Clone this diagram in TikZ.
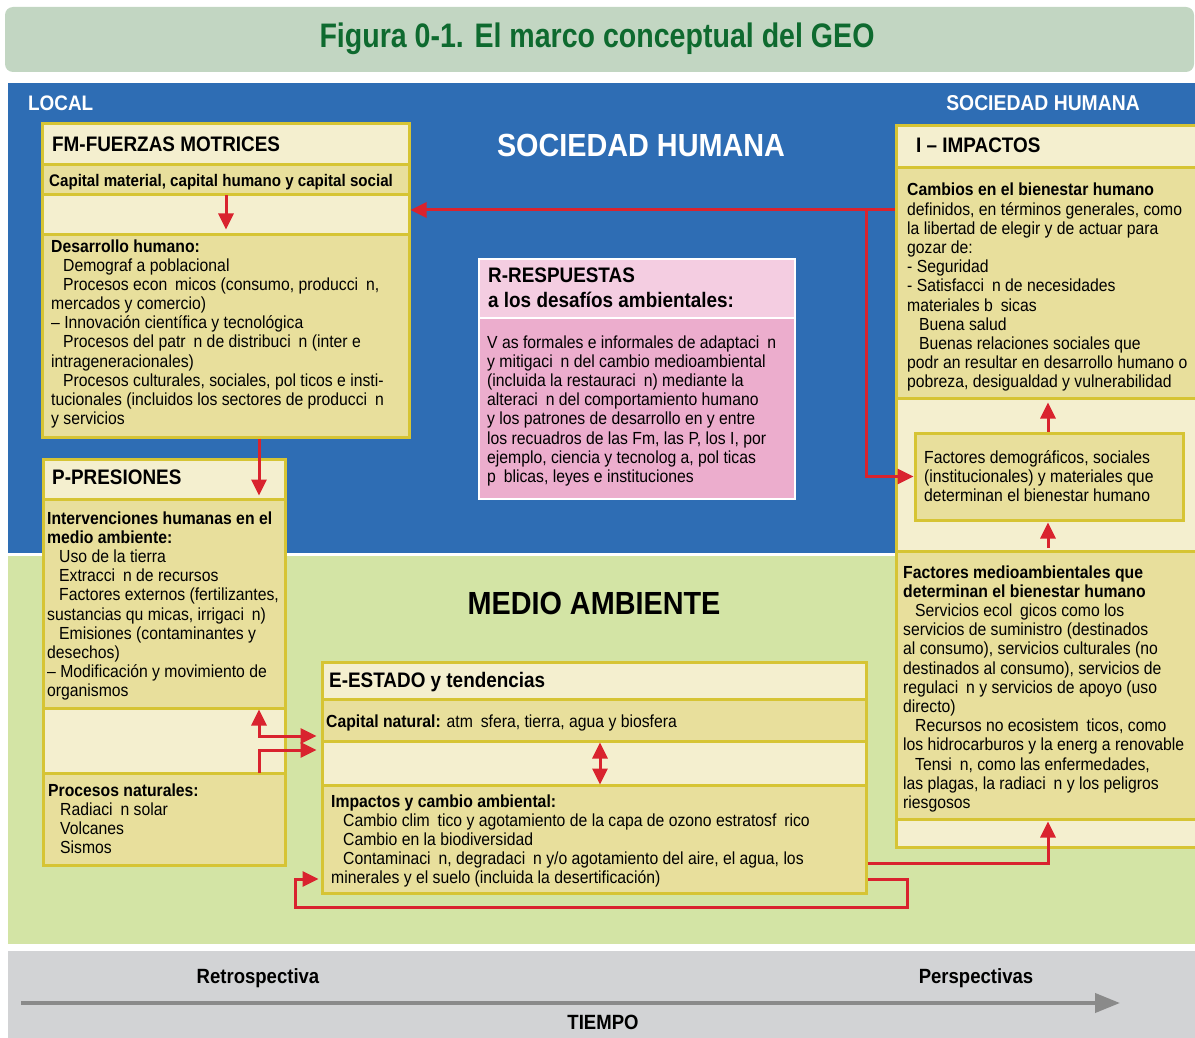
\documentclass[tikz,border=0pt]{standalone}
\usepackage{fontspec}
\setmainfont{Liberation Sans}[FakeStretch=0.9]
\newfontfamily\titlefont{Liberation Sans}[FakeStretch=0.84]
\usepackage{tikz}
\usetikzlibrary{%
	calc,%
	fit,%
	arrows.meta,%
	positioning%
}

\definecolor{bandblue}{HTML}{2E6DB4}
\definecolor{bandgreen}{HTML}{D3E4A5}
\definecolor{bandgray}{HTML}{D2D3D5}
\definecolor{bannerbg}{HTML}{C2D6C2}
\definecolor{titlegreen}{HTML}{0E6A2F}
\definecolor{seclight}{HTML}{F4EFCF}
\definecolor{secdark}{HTML}{E8DF9C}
\definecolor{secline}{HTML}{D6C434}
\definecolor{pinklight}{HTML}{F4CDE1}
\definecolor{pinkdark}{HTML}{ECADCD}
\definecolor{arrred}{HTML}{D9232E}
\definecolor{arrgray}{HTML}{8A8A8A}

\newcommand{\bodyfont}{\fontsize{17.5}{19.2}\selectfont}
\newcommand{\gap}{\hspace{0.45em}}
\newcommand{\ind}{\hspace*{12pt}}
\newcommand{\lines}[1]{\begin{tabular}[t]{@{}l@{}}#1\end{tabular}}

\tikzset{
	sect/.style={draw=secline, line width=3pt, inner sep=0pt},
	txt/.style={inner sep=0pt, anchor=base west, font=\bodyfont},
	headtxt/.style={inner sep=0pt, anchor=base west, font=\fontsize{21}{24}\selectfont\bfseries},
	label/.style={inner sep=0pt, anchor=base, font=\fontsize{20.6}{24}\selectfont\bfseries},
	rarr/.style={draw=arrred, line width=3pt, -{Triangle[length=16pt,width=15pt]}},
	rboth/.style={draw=arrred, line width=3pt, {Triangle[length=16pt,width=15pt]}-{Triangle[length=16pt,width=15pt]}}
}

\begin{document}
\begin{tikzpicture}[x=1pt, y=-1pt]
	\useasboundingbox (0,0) rectangle (1195,1038);

	% bands
	\fill[bannerbg, rounded corners=8pt] (5,7) rectangle (1194,72);
	\node[inner sep=0pt, anchor=base, font=\titlefont\fontsize{34}{38}\selectfont\bfseries, text=titlegreen] (title) at (597,48) {Figura 0-1. El marco conceptual del GEO};
	\fill[bandblue] (8,83) rectangle (1200,553);
	\fill[bandgreen] (8,556) rectangle (1200,944);
	\fill[bandgray] (8,951) rectangle (1200,1040);

	\node[inner sep=0pt, text=white, font=\fontsize{21}{24}\selectfont\bfseries, anchor=base west] (local) at (28,111) {LOCAL};
	\node[inner sep=0pt, text=white, font=\fontsize{21.5}{24}\selectfont\bfseries, anchor=base east] (sochead) at (1140,111) {SOCIEDAD HUMANA};
	\node[inner sep=0pt, text=white, font=\fontsize{32}{38}\selectfont\bfseries, anchor=base] (soc) at (641,157) {SOCIEDAD HUMANA};
	\node[inner sep=0pt, font=\fontsize{32}{38}\selectfont\bfseries, anchor=base] (medio) at (594,614) {MEDIO AMBIENTE};

	% FM
	\node[sect, fill=seclight, fit={(42,124) (409,165)}] (fmhead) {};
	\node[sect, fill=secdark, fit={(42,165) (409,195)}] (fmcap) {};
	\node[sect, fill=seclight, fit={(42,195) (409,234)}] (fmgap) {};
	\node[sect, fill=secdark, fit={(42,234) (409,437)}] (fmbody) {};
	\node[headtxt] (fmtitle) at (52,152) {FM-FUERZAS MOTRICES};
	\node[txt, font=\fontsize{16.8}{19.2}\selectfont\bfseries] (fmcaptxt) at (49,187) {Capital material, capital humano y capital social};
	\node[txt] (fmtxt) at (51,252) {\lines{\textbf{Desarrollo humano:}\\
		\ind Demograf a poblacional\\
		\ind Procesos econ\gap micos (consumo, producci\gap n,\\
		mercados y comercio)\\
		– Innovación científica y tecnológica\\
		\ind Procesos del patr\gap n de distribuci\gap n (inter e\\
		intrageneracionales)\\
		\ind Procesos culturales, sociales, pol ticos e insti-\\
		tucionales (incluidos los sectores de producci\gap n\\
		y servicios}};

	% P
	\node[sect, fill=seclight, fit={(43,459) (285,499)}] (phead) {};
	\node[sect, fill=secdark, fit={(43,499) (285,708)}] (pbody) {};
	\node[sect, fill=seclight, fit={(43,708) (285,773)}] (pgap) {};
	\node[sect, fill=secdark, fit={(43,773) (285,865)}] (pnat) {};
	\node[headtxt] (ptitle) at (52,484) {P-PRESIONES};
	\node[txt] (ptxt) at (47,524) {\lines{\textbf{Intervenciones humanas en el}\\
		\textbf{medio ambiente:}\\
		\ind Uso de la tierra\\
		\ind Extracci\gap n de recursos\\
		\ind Factores externos (fertilizantes,\\
		sustancias qu micas, irrigaci\gap n)\\
		\ind Emisiones (contaminantes y\\
		desechos)\\
		– Modificación y movimiento de\\
		organismos}};
	\node[txt] (pnattxt) at (48,796) {\lines{\textbf{Procesos naturales:}\\
		\ind Radiaci\gap n solar\\
		\ind Volcanes\\
		\ind Sismos}};

	% R
	\node[draw=white, line width=2.5pt, inner sep=0pt, fill=pinklight, fit={(479,259) (795,318)}] (rhead) {};
	\node[draw=white, line width=2.5pt, inner sep=0pt, fill=pinkdark, fit={(479,318) (795,499)}] (rbody) {};
	\node[txt, font=\fontsize{21}{25}\selectfont\bfseries] (rtitle) at (488,282) {\lines{R-RESPUESTAS\\a los desafíos ambientales:}};
	\node[txt] (rtxt) at (487,348) {\lines{V as formales e informales de adaptaci\gap n\\
		y mitigaci\gap n del cambio medioambiental\\
		(incluida la restauraci\gap n) mediante la\\
		alteraci\gap n del comportamiento humano\\
		y los patrones de desarrollo en y entre\\
		los recuadros de las Fm, las P, los I, por\\
		ejemplo, ciencia y tecnolog a, pol ticas\\
		p\gap blicas, leyes e instituciones}};

	% E
	\node[sect, fill=seclight, fit={(322,662) (866,699)}] (ehead) {};
	\node[sect, fill=secdark, fit={(322,699) (866,741)}] (ecap) {};
	\node[sect, fill=seclight, fit={(322,741) (866,785)}] (egap) {};
	\node[sect, fill=secdark, fit={(322,785) (866,893)}] (eimp) {};
	\node[headtxt] (etitle) at (329,687) {E-ESTADO y tendencias};
	\node[txt] (ecaptxt) at (326,727) {\textbf{Capital natural:} atm\gap sfera, tierra, agua y biosfera};
	\node[txt] (eimptxt) at (331,807) {\lines{\textbf{Impactos y cambio ambiental:}\\
		\ind Cambio clim\gap tico y agotamiento de la capa de ozono estratosf\gap rico\\
		\ind Cambio en la biodiversidad\\
		\ind Contaminaci\gap n, degradaci\gap n y/o agotamiento del aire, el agua, los\\
		minerales y el suelo (incluida la desertificación)}};

	% I
	\node[sect, fill=seclight, fit={(896,126) (1200,168)}] (ihead) {};
	\node[sect, fill=secdark, fit={(896,168) (1200,398)}] (ibody) {};
	\node[sect, fill=seclight, fit={(896,398) (1200,551)}] (imid) {};
	\node[sect, fill=secdark, fit={(915,433) (1183,520)}] (ifac) {};
	\node[sect, fill=secdark, fit={(896,551) (1200,819)}] (ienv) {};
	\node[sect, fill=seclight, fit={(896,819) (1200,847)}] (igap) {};
	\node[headtxt] (ititle) at (916,153) {I – IMPACTOS};
	\node[txt] (itxt) at (907,196) {\lines{\textbf{Cambios en el bienestar humano}\\
		definidos, en términos generales, como\\
		la libertad de elegir y de actuar para\\
		gozar de:\\
		- Seguridad\\
		- Satisfacci\gap n de necesidades\\
		materiales b\gap sicas\\
		\ind Buena salud\\
		\ind Buenas relaciones sociales que\\
		podr an resultar en desarrollo humano o\\
		pobreza, desigualdad y vulnerabilidad}};
	\node[txt] (ifactxt) at (924,463) {\lines{Factores demográficos, sociales\\
		(institucionales) y materiales que\\
		determinan el bienestar humano}};
	\node[txt] (ienvtxt) at (903,578) {\lines{\textbf{Factores medioambientales que}\\
		\textbf{determinan el bienestar humano}\\
		\ind Servicios ecol\gap gicos como los\\
		servicios de suministro (destinados\\
		al consumo), servicios culturales (no\\
		destinados al consumo), servicios de\\
		regulaci\gap n y servicios de apoyo (uso\\
		directo)\\
		\ind Recursos no ecosistem\gap ticos, como\\
		los hidrocarburos y la energ a renovable\\
		\ind Tensi\gap n, como las enfermedades,\\
		las plagas, la radiaci\gap n y los peligros\\
		riesgosos}};

	% connectors
	\coordinate (branch) at (866,210);
	\draw[rarr, shorten <=2pt, shorten >=6pt] (fmgap.north -| 226,0) -- (fmgap.south -| 226,0);
	\draw[rarr] (ibody.west |- branch) -- (fmgap.east |- branch);
	\draw[rarr] (branch) |- (ifac.west);
	\draw[rarr, shorten >=5pt] (fmbody.south -| 259,0) -- (phead.south -| 259,0);
	\draw[rboth, shorten <=3pt, shorten >=4pt] (pgap.north -| 259,0) |- (ecap.west |- 0,736);
	\draw[rarr, shorten <=2pt, shorten >=4pt] (pgap.south -| 259,0) |- (egap.west |- 0,750);
	\draw[rboth, shorten <=3pt, shorten >=2pt] (egap.north -| 600,0) -- (egap.south -| 600,0);
	\draw[rarr, shorten >=4pt] (eimp.east |- 0,863) -| (igap.north -| 1048,0);
	\draw[rarr, shorten >=2pt] (eimp.east |- 0,879) -| (907,907) -| (295,879) -- (eimp.west |- 0,879);
	\draw[rarr, shorten >=3pt] (ifac.north -| 1048,0) -- (ibody.south -| 1048,0);
	\draw[rarr, shorten <=2pt, shorten >=1pt] (ienv.north -| 1048,0) -- (ifac.south -| 1048,0);

	% time axis
	\coordinate (tstart) at (21,1003);
	\coordinate (tend) at (1120,1003);
	\draw[arrgray, line width=4pt, -{Triangle[length=25pt,width=19pt]}] (tstart) -- (tend);
	\node[label] (retro) at (258,983) {Retrospectiva};
	\node[label] (persp) at (976,983) {Perspectivas};
	\node[label] (tiempo) at (603,1029) {TIEMPO};
\end{tikzpicture}
\end{document}
